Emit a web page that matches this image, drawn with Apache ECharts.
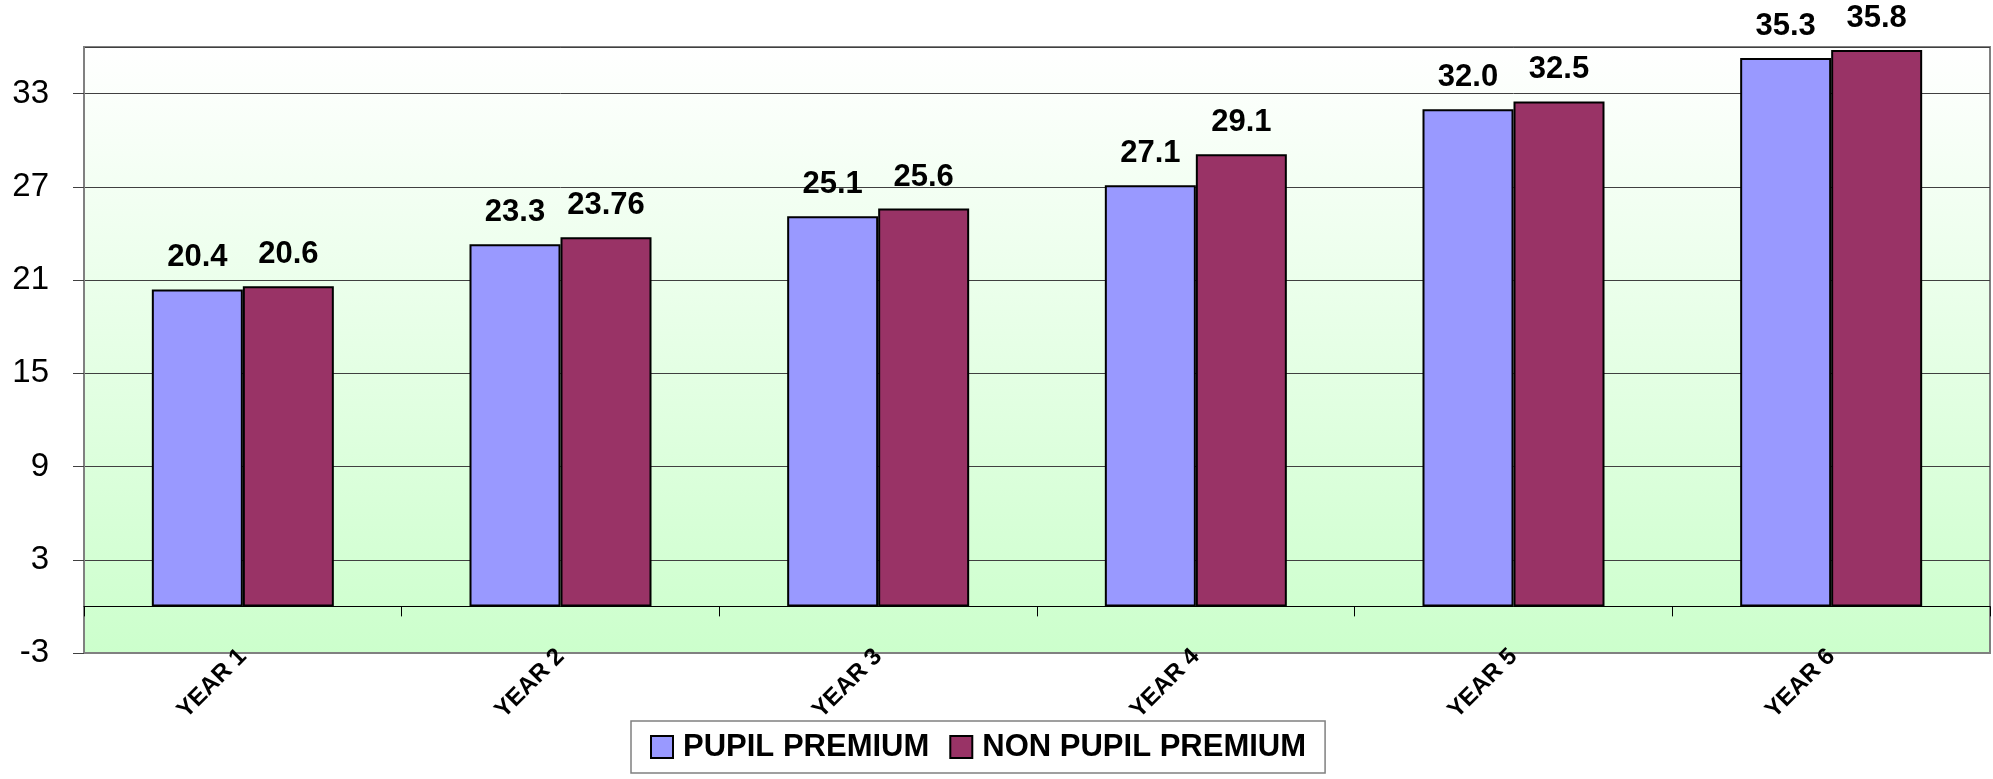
<!DOCTYPE html>
<html>
<head>
<meta charset="utf-8">
<script src="https://cdn.jsdelivr.net/npm/echarts@6/dist/echarts.min.js"></script>
<style>
  html, body { margin: 0; padding: 0; background: #fff; }
  #chart { width: 1993px; height: 779px; }
</style>
</head>
<body>
<div id="chart"></div>
<script>
// data
const years = ['YEAR 1', 'YEAR 2', 'YEAR 3', 'YEAR 4', 'YEAR 5', 'YEAR 6'];
const pupilPremium = [20.4, 23.3, 25.1, 27.1, 32.0, 35.3];
const nonPupilPremium = [20.6, 23.76, 25.6, 29.1, 32.5, 35.8];
const pupilLabels = ['20.4', '23.3', '25.1', '27.1', '32.0', '35.3'];
const nonPupilLabels = ['20.6', '23.76', '25.6', '29.1', '32.5', '35.8'];

const font = 'Liberation Sans';

const chart = echarts.init(document.getElementById('chart'));

const valueLabel = (texts) => ({
    show: true,
    position: 'top',
    distance: 16,
    fontFamily: font,
    fontWeight: 'bold',
    fontSize: 31,
    color: '#000',
    formatter: (p) => texts[p.dataIndex]
});

chart.setOption({
    animation: false,
    backgroundColor: '#fff',
    grid: {
        left: 84,
        top: 47,
        right: 3,
        bottom: 126,
        show: true,
        borderColor: '#808080',
        borderWidth: 2,
        backgroundColor: {
            type: 'linear', x: 0, y: 0, x2: 0, y2: 1,
            colorStops: [
                { offset: 0, color: '#ffffff' },
                { offset: 1, color: '#ccffcc' }
            ]
        }
    },
    legend: {
        left: 631,
        top: 721,
        padding: [10, 19],
        itemGap: 20,
        itemWidth: 22,
        itemHeight: 22,
        icon: 'rect',
        borderColor: '#808080',
        borderWidth: 1.5,
        backgroundColor: '#fff',
        itemStyle: { borderColor: '#000', borderWidth: 2 },
        textStyle: {
            fontFamily: font,
            fontWeight: 'bold',
            fontSize: 31,
            lineHeight: 32,
            color: '#000',
            padding: [0, 0, 0, 5]
        },
        data: ['PUPIL PREMIUM', 'NON PUPIL PREMIUM']
    },
    xAxis: [
        {
            type: 'category',
            data: years,
            position: 'bottom',
            axisLine: { onZero: false, lineStyle: { color: '#808080', width: 2 } },
            axisTick: { show: false },
            axisLabel: {
                rotate: 45,
                margin: 0,
                fontFamily: font,
                fontWeight: 'bold',
                fontSize: 24,
                color: '#000'
            }
        },
        {
            type: 'category',
            data: years,
            position: 'bottom',
            axisLine: { onZero: true, lineStyle: { color: '#000', width: 1 } },
            axisTick: { show: true, length: 10, lineStyle: { color: '#000' } },
            axisLabel: { show: false }
        }
    ],
    yAxis: {
        type: 'value',
        min: -3,
        max: 36,
        interval: 6,
        axisLine: { show: true, lineStyle: { color: '#808080', width: 2 } },
        axisTick: { show: true, length: 11, lineStyle: { color: '#404040' } },
        axisLabel: {
            showMaxLabel: false,
            margin: 35,
            fontFamily: font,
            fontSize: 33,
            color: '#000'
        },
        splitLine: { lineStyle: { color: '#404040', width: 1 } }
    },
    series: [
        {
            name: 'PUPIL PREMIUM',
            type: 'bar',
            data: pupilPremium,
            barWidth: 91,
            barGap: 0,
            itemStyle: { color: '#9999ff', borderColor: '#000', borderWidth: 2 },
            label: valueLabel(pupilLabels)
        },
        {
            name: 'NON PUPIL PREMIUM',
            type: 'bar',
            data: nonPupilPremium,
            barWidth: 91,
            barGap: 0,
            itemStyle: { color: '#993366', borderColor: '#000', borderWidth: 2 },
            label: valueLabel(nonPupilLabels)
        }
    ]
});
</script>
</body>
</html>
